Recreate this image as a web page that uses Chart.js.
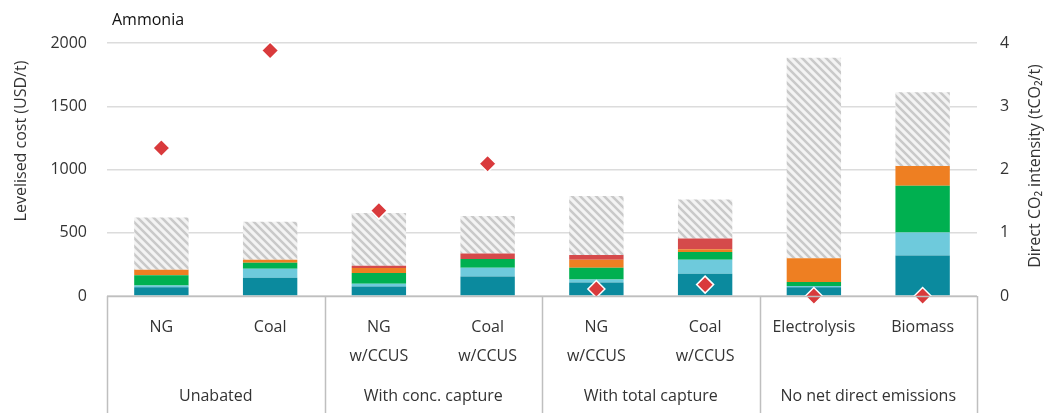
<!DOCTYPE html>
<html>
<head>
<meta charset="utf-8">
<script src="https://cdn.jsdelivr.net/npm/chart.js@4"></script>
<style>
  body { margin: 0; background: #fff; }
  canvas { display: block; }
</style>
</head>
<body>
<canvas id="chart" width="1052" height="413"></canvas>
<script>
// Data
const categories = [["NG"], ["Coal"], ["NG", "w/CCUS"], ["Coal", "w/CCUS"], ["NG", "w/CCUS"], ["Coal", "w/CCUS"], ["Electrolysis"], ["Biomass"]];
const groups = ["Unabated", "With conc. capture", "With total capture", "No net direct emissions"];
const capex = [70, 144, 75, 155, 107, 176, 70, 321];
const fixedOm = [13, 72, 22, 69, 24, 111, 10, 181];
const fuel = [82, 47, 84, 68, 93, 61, 30, 370];
const otherOpex = [43, 24, 40, 0, 63, 21, 188, 156];
const co2Cost = [0, 0, 19, 43, 37, 85, 0, 0];
const costRange = [412, 299, 417, 298, 466, 309, 1585, 582];
const co2Intensity = [2.34, 3.88, 1.35, 2.09, 0.11, 0.18, 0, 0];
const costTicks = [0, 500, 1000, 1500, 2000];
const co2Ticks = [0, 1, 2, 3, 4];

const FONT = "'Open Sans', 'Noto Sans', sans-serif";
const TXT = "#333";

// hatch pattern for the cost range
function hatch() {
  const c = document.createElement("canvas");
  c.width = 8; c.height = 8;
  const g = c.getContext("2d");
  g.fillStyle = "#f3f3f3";
  g.fillRect(0, 0, 8, 8);
  g.strokeStyle = "#c9c9c9";
  g.lineWidth = 2.5;
  g.beginPath();
  g.moveTo(-2, -2); g.lineTo(10, 10);
  g.moveTo(-10, -2); g.lineTo(2, 10);
  g.moveTo(6, -2); g.lineTo(18, 10);
  g.stroke();
  return g.createPattern(c, "repeat");
}

const bar = (label, data, color) => ({
  type: "bar", label, data, backgroundColor: color, yAxisID: "y", order: 1,
  barPercentage: 0.5, categoryPercentage: 1, borderWidth: 0,
});

const labelsPlugin = {
  id: "labels",
  afterDraw(chart) {
    const ctx = chart.ctx;
    const x = chart.scales.x;
    const area = chart.chartArea;
    ctx.save();
    // box under the axis
    ctx.strokeStyle = "#bfbfbf";
    ctx.lineWidth = 1.5;
    ctx.beginPath();
    ctx.moveTo(area.left, area.bottom + 0.5);
    ctx.lineTo(area.right, area.bottom + 0.5);
    const step = (area.right - area.left) / groups.length;
    for (let i = 0; i <= groups.length; i++) {
      const px = Math.round(area.left + i * step) + 0.5;
      ctx.moveTo(px, area.bottom);
      ctx.lineTo(px, chart.height);
    }
    ctx.stroke();

    ctx.fillStyle = TXT;
    ctx.font = "16px " + FONT;
    ctx.textAlign = "center";
    ctx.textBaseline = "middle";
    categories.forEach((lines, i) => {
      const px = x.getPixelForValue(i);
      lines.forEach((t, j) => ctx.fillText(t, px, area.bottom + 31 + j * 29));
    });
    groups.forEach((g, i) => {
      const px = (x.getPixelForValue(2 * i) + x.getPixelForValue(2 * i + 1)) / 2;
      ctx.fillText(g, px, area.bottom + 100);
    });

    // title
    ctx.textAlign = "left";
    ctx.fillStyle = "#111";
    ctx.font = "16px " + FONT;
    ctx.fillText("Ammonia", 112, 20);

    // axis titles
    ctx.fillStyle = TXT;
    ctx.font = "16px " + FONT;
    ctx.textAlign = "center";
    ctx.save();
    ctx.translate(21, 141);
    ctx.rotate(-Math.PI / 2);
    ctx.fillText("Levelised cost (USD/t)", 0, 0);
    ctx.restore();
    ctx.save();
    ctx.translate(1035, 166);
    ctx.rotate(-Math.PI / 2);
    ctx.fillText("Direct CO\u2082 intensity (tCO\u2082/t)", 0, 0);
    ctx.restore();
    ctx.restore();
  },
};

new Chart(document.getElementById("chart"), {
  data: {
    labels: categories,
    datasets: [
      {
        type: "line", label: "Direct CO2 intensity", data: co2Intensity, yAxisID: "y1", order: 0,
        showLine: false, pointStyle: "rectRot", pointRadius: 8.5, pointHoverRadius: 8.5,
        backgroundColor: "#d93a3c", borderColor: "#ffffff", pointBorderWidth: 1.5, clip: false,
      },
      bar("CAPEX", capex, "#0b8a9e"),
      bar("Fixed O&M", fixedOm, "#6ecadc"),
      bar("Fuel", fuel, "#00b050"),
      bar("Other OPEX", otherOpex, "#ee7f22"),
      bar("CO2 transport and storage", co2Cost, "#d54a4b"),
      bar("Cost range", costRange, hatch()),
    ],
  },
  options: {
    responsive: false,
    animation: false,
    layout: { padding: { top: 43, left: 0, right: 0, bottom: 0 } },
    plugins: { legend: { display: false }, tooltip: { enabled: false } },
    scales: {
      x: {
        stacked: true,
        grid: { display: false },
        border: { display: false },
        ticks: { display: false },
        afterFit: (s) => { s.height = 117; },
      },
      y: {
        stacked: true,
        position: "left",
        min: 0, max: 2000,
        afterBuildTicks: (s) => { s.ticks = costTicks.map((v) => ({ value: v })); },
        grid: { color: "#dcdcdc", lineWidth: 1.5, drawTicks: false },
        border: { display: false },
        ticks: { padding: 20, color: TXT, font: { family: FONT, size: 16 }, callback: (v) => String(v) },
        afterFit: (s) => { s.width = 107; },
      },
      y1: {
        position: "right",
        min: 0, max: 4,
        afterBuildTicks: (s) => { s.ticks = co2Ticks.map((v) => ({ value: v })); },
        grid: { display: false, drawTicks: false },
        border: { display: false },
        ticks: { padding: 23, color: TXT, font: { family: FONT, size: 16 }, callback: (v) => String(v) },
        afterFit: (s) => { s.width = 75; },
      },
    },
  },
  plugins: [labelsPlugin],
});
</script>
</body>
</html>
